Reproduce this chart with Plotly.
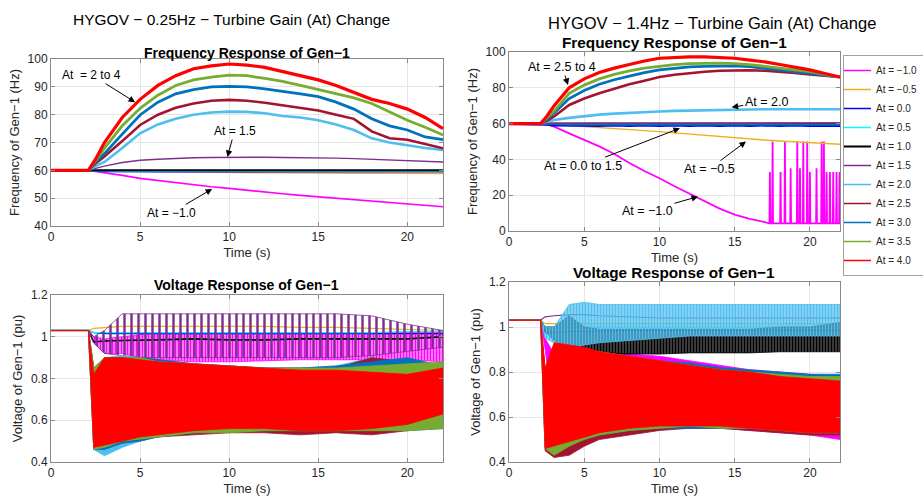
import plotly.graph_objects as go

FONT = "Liberation Sans, Arial, Helvetica, sans-serif"

# ---- series names and colours (one per turbine gain setting) ----
AT_LABELS = ["At = −1.0", "At = −0.5", "At = 0.0", "At = 0.5", "At = 1.0", "At = 1.5",
             "At = 2.0", "At = 2.5", "At = 3.0", "At = 3.5", "At = 4.0"]
COLORS = ["#FF00FF", "#EDB120", "#0000FF", "#00FFFF", "#000000", "#7E2F8E",
          "#4DBEEE", "#A2142F", "#0072BD", "#77AC30", "#FF0000"]

# ---- frequency response, time samples (s) ----
T_F = [0, 2.1, 2.5, 3, 4, 5, 6, 7, 8, 9, 10, 11, 12, 13, 14, 15, 16, 17, 18, 19, 20, 21, 22]

# HYGOV 0.25 Hz, frequency of Gen-1 (Hz)
FL_M10 = [60, 60, 59.6, 59.2, 58.2, 57.1, 56.3, 55.5, 54.8, 54.1, 53.5, 52.8, 52.2, 51.6, 51, 50.5, 50, 49.5, 49, 48.4, 47.9, 47.4, 46.9]
FL_M05 = [60, 60, 59.9, 59.8, 59.7, 59.6, 59.5, 59.4, 59.3, 59.3, 59.2, 59.2, 59.1, 59.1, 59, 59, 59, 58.9, 58.9, 58.9, 58.8, 58.8, 58.8]
FL_P00 = [60, 60, 59.8, 59.6, 59.5, 59.5, 59.5, 59.5, 59.5, 59.5, 59.5, 59.5, 59.5, 59.5, 59.5, 59.5, 59.5, 59.5, 59.5, 59.5, 59.5, 59.5, 59.5]
FL_P05 = [60, 60, 59.9, 59.8, 59.7, 59.7, 59.7, 59.7, 59.7, 59.7, 59.7, 59.7, 59.7, 59.7, 59.7, 59.7, 59.7, 59.7, 59.7, 59.7, 59.7, 59.7, 59.7]
FL_P10 = [60, 60, 60, 60, 60, 60, 60, 60, 60, 60, 60, 60, 60, 60, 60, 60, 60, 60, 60, 60, 60, 60, 60]
FL_P15 = [60, 60, 60.7, 61.5, 62.8, 63.6, 64, 64.3, 64.5, 64.6, 64.7, 64.7, 64.7, 64.6, 64.6, 64.5, 64.4, 64.2, 64, 63.8, 63.5, 63.2, 63]
FL_P20 = [60, 60, 61.5, 63, 68, 73.3, 76.5, 78.5, 80, 80.8, 81.1, 81, 80.5, 79.5, 79, 78, 76.5, 74.5, 71.5, 70, 69, 68, 67.3]
FL_P25 = [60, 60, 62.5, 65, 70.5, 76.3, 80, 82.5, 84, 85, 85.3, 85, 84.3, 83.3, 82.5, 81.5, 80, 78.5, 74, 71.5, 71, 69.5, 67.9]
FL_P30 = [60, 60, 63, 66, 73, 79.9, 84.5, 87.5, 89, 90, 90.2, 90, 89.3, 88.5, 87.5, 86.5, 84.5, 82, 78.5, 76, 74.5, 72, 71]
FL_P35 = [60, 60, 63.5, 68, 76, 82.3, 87, 90.5, 92.5, 93.5, 94.2, 94, 93, 92, 90.5, 89, 87.5, 86, 84, 81, 78, 75.5, 72.7]
FL_P40 = [60, 60, 64, 70, 79, 85.5, 90.5, 94, 96.5, 97.5, 98.2, 97.8, 97, 95.5, 94, 92.5, 90.5, 88, 85.5, 84, 82, 79, 75]

# HYGOV 1.4 Hz, frequency of Gen-1 (Hz)
T_FR_M10 = [0, 2.1, 2.5, 3, 4, 5, 6, 7, 8, 9, 10, 11, 12, 13, 14, 15, 16, 17, 17.3]
FR_M10 = [60, 60, 59.5, 58.3, 54.5, 51, 47.3, 43, 38, 33.5, 29.5, 25, 20.8, 16.8, 12.5, 9.2, 6.8, 5, 4.5]
# spikes of the At = -1.0 case after the unit loses synchronism
SPIKE_T = [17.34, 17.52, 18.05, 18.34, 18.72, 19.16, 19.34, 19.56, 19.82, 20.0, 20.44, 20.78, 20.93, 21.11, 21.33, 21.55, 21.77, 21.97]
SPIKE_PEAK = [33, 50, 33, 50, 35, 50, 35, 50, 50, 33, 35, 50, 50, 33, 33, 33, 33, 33]
SPIKE_BASE = 4.3
FR_M05 = [60, 60, 59.8, 59.5, 59, 58.5, 58, 57.3, 56.7, 56.1, 55.5, 54.8, 54.2, 53.5, 52.8, 52, 51.3, 50.8, 50.3, 49.8, 49.3, 48.9, 48.5]
FR_P00 = [60, 60, 59.6, 59.2, 59, 59.2, 58.9, 59.2, 58.9, 59.2, 58.9, 59.2, 58.9, 59.2, 58.9, 59.2, 58.9, 59.2, 58.9, 59.2, 58.9, 59.1, 59]
FR_P05 = [60, 60, 59.8, 59.6, 59.5, 59.5, 59.5, 59.5, 59.5, 59.5, 59.5, 59.5, 59.5, 59.5, 59.5, 59.5, 59.5, 59.5, 59.5, 59.5, 59.5, 59.5, 59.5]
FR_P10 = [60, 60, 60, 60, 60, 60, 60, 60, 60, 60, 60, 60, 60, 60, 60, 60, 60, 60, 60, 60, 60, 60, 60]
FR_P15 = [60, 60, 60.1, 60.2, 60.3, 60.3, 60.3, 60.3, 60.3, 60.3, 60.3, 60.3, 60.3, 60.3, 60.3, 60.3, 60.3, 60.3, 60.3, 60.3, 60.3, 60.3, 60.3]
FR_P20 = [60, 60, 61, 62, 63.2, 64.2, 65, 65.6, 66.1, 66.5, 66.8, 67.1, 67.3, 67.5, 67.7, 67.8, 68, 68, 68, 68, 68, 68, 68]
FR_P25 = [60, 60, 61.5, 64, 70.4, 74, 77, 79.7, 82, 84, 86, 87.3, 88.3, 89, 89.5, 89.8, 89.8, 89.5, 89, 88.3, 87.5, 86.8, 86]
FR_P30 = [60, 60, 62.5, 66, 74, 78.5, 82, 84.5, 86.5, 88.5, 90, 91, 91.7, 92, 92.2, 92.2, 91.8, 91, 90, 89, 88, 87, 86]
FR_P35 = [60, 60, 63, 67, 76.9, 81.5, 85, 87.5, 89.5, 91, 92, 93, 93.5, 93.8, 93.8, 93.5, 93, 92, 91, 90, 89, 87.5, 86]
FR_P40 = [60, 60, 64, 70, 80, 85, 88.5, 91, 93, 95, 96.5, 97, 97.3, 97.3, 97, 96.5, 95.5, 94.5, 93, 91.5, 90, 88, 86]

# ---- voltage response, time samples (s); oscillating cases given as upper / lower envelope (pu) ----
T_V = [0, 2.1, 2.4, 3, 4, 5, 6, 8, 10, 12, 14, 16, 18, 20, 22]

# HYGOV 0.25 Hz
VL_M10_HI = [1.03, 1.03, 1.0, 0.99, 1.0, 1.01, 1.02, 1.02, 1.02, 1.02, 1.02, 1.02, 1.02, 1.02, 1.02]
VL_M10_LO = [1.03, 1.03, 0.97, 0.92, 0.92, 0.9, 0.89, 0.88, 0.88, 0.885, 0.89, 0.89, 0.89, 0.89, 0.88]
VL_M05 = [1.03, 1.03, 1.04, 1.045, 1.05, 1.05, 1.05, 1.05, 1.05, 1.05, 1.045, 1.045, 1.04, 1.035, 1.03]
VL_P00 = [1.03, 1.03, 1.02, 1.015, 1.015, 1.015, 1.015, 1.015, 1.015, 1.015, 1.015, 1.015, 1.015, 1.015, 1.015]
VL_P05 = [1.03, 1.03, 1.02, 1.02, 1.02, 1.02, 1.02, 1.02, 1.02, 1.02, 1.02, 1.02, 1.02, 1.025, 1.025]
VL_P10 = [1.03, 1.03, 0.975, 0.98, 0.982, 0.985, 0.985, 0.99, 0.985, 0.985, 0.99, 0.99, 0.99, 0.99, 1.0]
VL_P15_HI = [1.03, 1.03, 1.0, 1.03, 1.11, 1.11, 1.11, 1.11, 1.11, 1.11, 1.11, 1.11, 1.10, 1.06, 1.03]
VL_P15_LO = [1.03, 1.03, 0.97, 0.92, 0.91, 0.9, 0.9, 0.9, 0.9, 0.9, 0.9, 0.9, 0.91, 0.93, 0.95]
VL_P20_HI = [1.03, 1.03, 0.85, 0.9, 0.91, 0.9, 0.89, 0.87, 0.86, 0.85, 0.85, 0.86, 0.9, 0.87, 0.86]
VL_P20_LO = [1.03, 1.03, 0.46, 0.43, 0.47, 0.5, 0.52, 0.54, 0.55, 0.56, 0.56, 0.56, 0.56, 0.56, 0.57]
VL_P25_HI = [1.03, 1.03, 0.85, 0.9, 0.9, 0.9, 0.89, 0.87, 0.86, 0.85, 0.85, 0.85, 0.9, 0.88, 0.85]
VL_P25_LO = [1.03, 1.03, 0.46, 0.47, 0.49, 0.51, 0.52, 0.53, 0.54, 0.54, 0.53, 0.54, 0.53, 0.55, 0.58]
VL_P30_HI = [1.03, 1.03, 0.85, 0.9, 0.9, 0.9, 0.89, 0.87, 0.86, 0.85, 0.85, 0.86, 0.88, 0.9, 0.86]
VL_P30_LO = [1.03, 1.03, 0.46, 0.46, 0.49, 0.5, 0.52, 0.54, 0.55, 0.55, 0.55, 0.55, 0.56, 0.55, 0.56]
VL_P35_HI = [1.03, 1.03, 0.85, 0.9, 0.9, 0.9, 0.88, 0.87, 0.86, 0.85, 0.85, 0.85, 0.86, 0.87, 0.88]
VL_P35_LO = [1.03, 1.03, 0.46, 0.47, 0.5, 0.51, 0.52, 0.54, 0.54, 0.55, 0.55, 0.55, 0.55, 0.55, 0.56]
VL_P40_HI = [1.03, 1.03, 0.82, 0.9, 0.9, 0.89, 0.88, 0.87, 0.86, 0.85, 0.84, 0.84, 0.83, 0.82, 0.85]
VL_P40_LO = [1.03, 1.03, 0.47, 0.48, 0.5, 0.52, 0.53, 0.55, 0.56, 0.56, 0.55, 0.55, 0.56, 0.58, 0.63]

# HYGOV 1.4 Hz
VR_M10_HI = [1.03, 1.03, 0.95, 0.88, 0.9, 0.9, 0.89, 0.88, 0.87, 0.85, 0.83, 0.81, 0.8, 0.79, 0.78]
VR_M10_LO = [1.03, 1.03, 0.9, 0.6, 0.5, 0.5, 0.51, 0.53, 0.55, 0.55, 0.55, 0.54, 0.53, 0.52, 0.5]
VR_M05 = [1.03, 1.03, 1.015, 1.015, 1.015, 1.015, 1.015, 1.015, 1.015, 1.015, 1.015, 1.015, 1.015, 1.015, 1.015]
VR_P00 = [1.03, 1.03, 0.975, 0.975, 0.98, 0.98, 0.98, 0.985, 0.985, 0.985, 0.985, 0.985, 0.985, 0.985, 0.985]
VR_P05 = [1.03, 1.03, 1.0, 1.0, 1.0, 1.0, 1.0, 1.0, 1.0, 1.0, 1.0, 1.0, 1.0, 1.0, 1.0]
VR_P10_HI = [1.03, 1.03, 1.0, 1.0, 1.05, 1.0, 0.99, 0.99, 0.99, 0.99, 0.99, 0.99, 1.0, 1.0, 1.02]
VR_P10_LO = [1.03, 1.03, 0.98, 0.94, 0.9, 0.89, 0.88, 0.88, 0.88, 0.885, 0.885, 0.885, 0.89, 0.89, 0.89]
VR_P15 = [1.03, 1.03, 1.045, 1.05, 1.055, 1.055, 1.05, 1.045, 1.04, 1.04, 1.04, 1.04, 1.04, 1.04, 1.04]
VR_P20_HI = [1.03, 1.03, 1.0, 1.0, 1.1, 1.11, 1.1, 1.1, 1.1, 1.1, 1.1, 1.1, 1.1, 1.1, 1.1]
VR_P20_LO = [1.03, 1.03, 0.95, 0.93, 0.9, 0.92, 0.93, 0.94, 0.95, 0.96, 0.96, 0.96, 0.96, 0.96, 0.96]
VR_P25_HI = [1.03, 1.03, 0.8, 0.9, 0.9, 0.9, 0.89, 0.87, 0.85, 0.83, 0.81, 0.8, 0.79, 0.78, 0.77]
VR_P25_LO = [1.03, 1.03, 0.45, 0.42, 0.43, 0.47, 0.5, 0.52, 0.54, 0.55, 0.55, 0.54, 0.53, 0.52, 0.52]
VR_P30_HI = [1.03, 1.03, 0.8, 0.9, 0.9, 0.9, 0.89, 0.87, 0.85, 0.84, 0.82, 0.81, 0.8, 0.79, 0.79]
VR_P30_LO = [1.03, 1.03, 0.46, 0.46, 0.48, 0.5, 0.52, 0.54, 0.55, 0.55, 0.55, 0.55, 0.54, 0.53, 0.53]
VR_P35_HI = [1.03, 1.03, 0.8, 0.92, 0.9, 0.9, 0.89, 0.87, 0.85, 0.83, 0.81, 0.8, 0.79, 0.78, 0.78]
VR_P35_LO = [1.03, 1.03, 0.46, 0.43, 0.47, 0.5, 0.52, 0.54, 0.55, 0.56, 0.55, 0.55, 0.54, 0.53, 0.53]
VR_P40_HI = [1.03, 1.03, 0.82, 0.93, 0.92, 0.91, 0.89, 0.87, 0.85, 0.83, 0.81, 0.8, 0.78, 0.77, 0.76]
VR_P40_LO = [1.03, 1.03, 0.46, 0.47, 0.49, 0.51, 0.53, 0.55, 0.56, 0.56, 0.56, 0.55, 0.54, 0.53, 0.53]

fig = go.Figure()

FREQ_WIDTH = [1.6, 1.4, 1.6, 1.4, 2.0, 1.4, 2.6, 2.6, 2.8, 2.8, 3.2]


def add_line(x, y, i, xa, ya, width=1.2):
    fig.add_trace(go.Scatter(
        x=x, y=y, mode="lines", name=AT_LABELS[i], showlegend=False,
        line=dict(color=COLORS[i], width=width), xaxis=xa, yaxis=ya,
        hoverinfo="skip"))


def add_band(hi, lo, i, xa, ya, pattern=None):
    # oscillating trace drawn as the region between its envelopes
    xs = T_V + T_V[::-1]
    ys = hi + lo[::-1]
    kw = dict(fill="toself", fillcolor=COLORS[i])
    if pattern is not None:
        size, solidity = pattern
        kw = dict(fill="toself",
                  fillpattern=dict(shape="|", fgcolor=COLORS[i], bgcolor="rgba(0,0,0,0)",
                                   size=size, solidity=solidity, fillmode="replace"))
    fig.add_trace(go.Scatter(
        x=xs, y=ys, mode="lines", name=AT_LABELS[i], showlegend=False,
        line=dict(color=COLORS[i], width=0.8), xaxis=xa, yaxis=ya,
        hoverinfo="skip", **kw))


# top-left: frequency, 0.25 Hz
for i, ser in enumerate([FL_M10, FL_M05, FL_P00, FL_P05, FL_P10, FL_P15,
                         FL_P20, FL_P25, FL_P30, FL_P35, FL_P40]):
    add_line(T_F, ser, i, "x", "y", width=FREQ_WIDTH[i])

# top-right: frequency, 1.4 Hz
mag_x = list(T_FR_M10)
mag_y = list(FR_M10)
for ts, pk in zip(SPIKE_T, SPIKE_PEAK):
    mag_x += [ts - 0.03, ts, ts + 0.03]
    mag_y += [SPIKE_BASE, pk, SPIKE_BASE]
add_line(mag_x, mag_y, 0, "x2", "y2", width=1.8)
for i, ser in enumerate([FR_M05, FR_P00, FR_P05, FR_P10, FR_P15,
                         FR_P20, FR_P25, FR_P30, FR_P35, FR_P40], start=1):
    w = 3.0 if i == 2 else FREQ_WIDTH[i]
    add_line(T_F, ser, i, "x2", "y2", width=w)

# legend entries (one per gain setting, plain line samples)
for i, name in enumerate(AT_LABELS):
    fig.add_trace(go.Scatter(
        x=[None], y=[None], mode="lines", name=name, showlegend=True,
        line=dict(color=COLORS[i], width=2.0 if i == 4 else 1.5),
        xaxis="x2", yaxis="y2", hoverinfo="skip"))

# bottom-left: voltage, 0.25 Hz
add_band(VL_M10_HI, VL_M10_LO, 0, "x3", "y3", pattern=(3, 0.7))
add_line(T_V, VL_M05, 1, "x3", "y3")
add_line(T_V, VL_P00, 2, "x3", "y3")
add_line(T_V, VL_P05, 3, "x3", "y3")
add_line(T_V, VL_P10, 4, "x3", "y3", width=1.6)
add_band(VL_P15_HI, VL_P15_LO, 5, "x3", "y3", pattern=(7, 0.35))
add_band(VL_P20_HI, VL_P20_LO, 6, "x3", "y3")
add_band(VL_P25_HI, VL_P25_LO, 7, "x3", "y3")
add_band(VL_P30_HI, VL_P30_LO, 8, "x3", "y3")
add_band(VL_P35_HI, VL_P35_LO, 9, "x3", "y3")
add_band(VL_P40_HI, VL_P40_LO, 10, "x3", "y3")

# bottom-right: voltage, 1.4 Hz
add_band(VR_M10_HI, VR_M10_LO, 0, "x4", "y4")
add_line(T_V, VR_M05, 1, "x4", "y4")
add_line(T_V, VR_P00, 2, "x4", "y4")
add_line(T_V, VR_P05, 3, "x4", "y4")
add_band(VR_P10_HI, VR_P10_LO, 4, "x4", "y4", pattern=(3, 0.85))
add_line(T_V, VR_P15, 5, "x4", "y4")
add_band(VR_P20_HI, VR_P20_LO, 6, "x4", "y4", pattern=(3, 0.8))
add_band(VR_P25_HI, VR_P25_LO, 7, "x4", "y4")
add_band(VR_P30_HI, VR_P30_LO, 8, "x4", "y4")
add_band(VR_P35_HI, VR_P35_LO, 9, "x4", "y4")
add_band(VR_P40_HI, VR_P40_LO, 10, "x4", "y4")

W, H = 923, 496
FRAME = "#8a8a8a"
TXT = "#262626"


def px_dom_x(a, b):
    return [a / W, b / W]


def px_dom_y(top, bottom):
    return [1 - bottom / H, 1 - top / H]


def xaxis(dom, anchor):
    return dict(domain=dom, anchor=anchor, range=[0, 22], tickvals=[0, 5, 10, 15, 20],
                showgrid=True, gridcolor="#e6e6e6", gridwidth=1, zeroline=False,
                showline=True, linecolor=FRAME, linewidth=1, mirror="ticks",
                ticks="inside", ticklen=4, tickcolor=FRAME,
                tickfont=dict(family=FONT, size=12, color=TXT),
                title=dict(text="Time (s)", font=dict(family=FONT, size=13, color=TXT), standoff=4))


def yaxis(dom, anchor, rng, tickvals, ticktext, title):
    return dict(domain=dom, anchor=anchor, range=rng, tickvals=tickvals, ticktext=ticktext,
                showgrid=True, gridcolor="#e6e6e6", gridwidth=1, zeroline=False,
                showline=True, linecolor=FRAME, linewidth=1, mirror="ticks",
                ticks="inside", ticklen=4, tickcolor=FRAME,
                tickfont=dict(family=FONT, size=12, color=TXT),
                title=dict(text=title, font=dict(family=FONT, size=13, color=TXT), standoff=5))


XL = px_dom_x(51, 443)
XR = px_dom_x(509, 840)
FREQ_TITLE = "Frequency of Gen−1 (Hz)"
VOLT_TITLE = "Voltage of Gen−1 (pu)"

fig.update_layout(
    width=W, height=H,
    margin=dict(l=0, r=0, t=0, b=0, autoexpand=False),
    paper_bgcolor="white", plot_bgcolor="white",
    font=dict(family=FONT, color=TXT),
    xaxis=xaxis(XL, "y"),
    yaxis=yaxis(px_dom_y(59, 226), "x", [40, 100], [40, 50, 60, 70, 80, 90, 100],
                ["40", "50", "60", "70", "80", "90", "100"], FREQ_TITLE),
    xaxis2=xaxis(XR, "y2"),
    yaxis2=yaxis(px_dom_y(52, 231), "x2", [0, 100], [0, 20, 40, 60, 80, 100],
                 ["0", "20", "40", "60", "80", "100"], FREQ_TITLE),
    xaxis3=xaxis(XL, "y3"),
    yaxis3=yaxis(px_dom_y(295, 462), "x3", [0.4, 1.2], [0.4, 0.6, 0.8, 1.0, 1.2],
                 ["0.4", "0.6", "0.8", "1", "1.2"], VOLT_TITLE),
    xaxis4=xaxis(XR, "y4"),
    yaxis4=yaxis(px_dom_y(282, 462), "x4", [0.4, 1.2], [0.4, 0.6, 0.8, 1.0, 1.2],
                 ["0.4", "0.6", "0.8", "1", "1.2"], VOLT_TITLE),
    legend=dict(x=843 / W, y=1 - 55 / H, xanchor="left", yanchor="top",
                bgcolor="white", bordercolor="#a0a0a0", borderwidth=1,
                indentation=-8, itemwidth=30,
                font=dict(family=FONT, size=10, color=TXT), tracegroupgap=0),
    showlegend=True,
)

annotations = []


def text_at(x, y, text, size, bold=False):
    annotations.append(dict(
        x=x / W, y=1 - y / H, xref="paper", yref="paper", showarrow=False,
        xanchor="center", yanchor="middle",
        text=f"<b>{text}</b>" if bold else text,
        font=dict(family=FONT, size=size, color="#000000")))


text_at(232, 20, "HYGOV − 0.25Hz − Turbine Gain (At) Change", 15.5)
text_at(712, 23, "HYGOV − 1.4Hz − Turbine Gain (At) Change", 16.5)
text_at(247, 53, "Frequency Response of Gen−1", 14, bold=True)
text_at(674, 42, "Frequency Response of Gen−1", 15.3, bold=True)
text_at(247, 285, "Voltage Response of Gen−1", 14, bold=True)
text_at(674, 272, "Voltage Response of Gen−1", 15.3, bold=True)


def arrow(text, tip, tail, xa, ya, size):
    annotations.append(dict(
        x=tip[0], y=tip[1], ax=tail[0], ay=tail[1], xref=xa, yref=ya, axref=xa, ayref=ya,
        text=text, showarrow=True, arrowhead=2, arrowsize=1.3, arrowwidth=1,
        arrowcolor="#000000", font=dict(family=FONT, size=size, color="#000000")))


arrow("At  = 2 to 4", (4.72, 84.5), (2.3, 94.2), "x", "y", 12)
arrow("At = 1.5", (9.9, 64.8), (10.3, 74.1), "x", "y", 12)
arrow("At = −1.0", (9.04, 53.3), (6.75, 44.7), "x", "y", 12)

arrow("At = 2.5 to 4", (3.92, 81.6), (3.55, 91.6), "x2", "y2", 12.5)
arrow("At = 2.0", (14.8, 69.1), (17.1, 72.2), "x2", "y2", 12.5)
arrow("At = 0.0 to 1.5", (11.36, 57.4), (4.92, 36.5), "x2", "y2", 12.5)
arrow("At = −0.5", (15.75, 50.0), (13.3, 34.6), "x2", "y2", 12.5)
arrow("At = −1.0", (12.56, 19.2), (9.2, 11.2), "x2", "y2", 12.5)

fig.update_layout(annotations=annotations)

fig.write_html("out.html")
